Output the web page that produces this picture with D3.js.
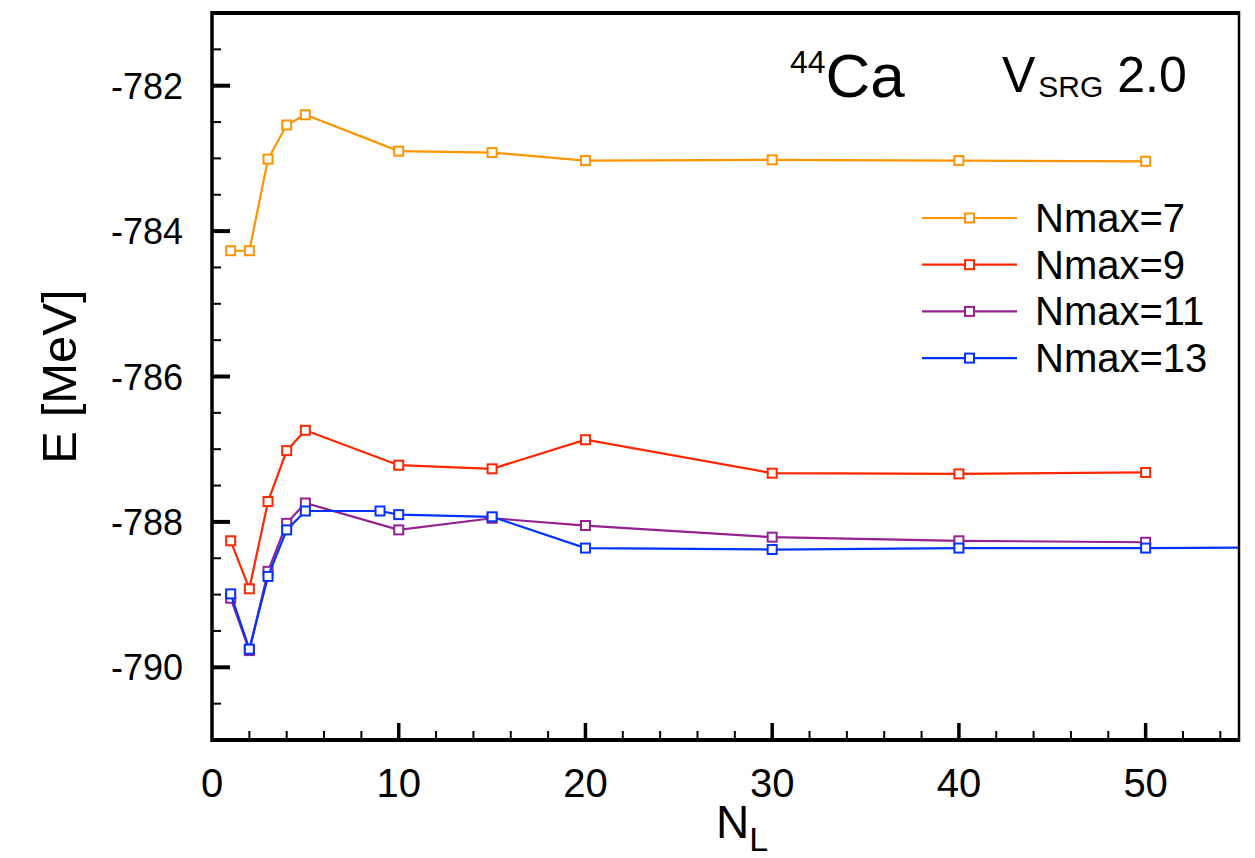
<!DOCTYPE html>
<html>
<head>
<meta charset="utf-8">
<script src="https://cdn.jsdelivr.net/npm/d3@7"></script>
<style>
  body { margin: 0; background: #fff; }
  text { font-family: "Liberation Sans", Arial, sans-serif; fill: #000; }
</style>
</head>
<body>
<div id="main"></div>
<script>
// values
const nl = [1, 2, 3, 4, 5, 10, 15, 20, 30, 40, 50];
const nlBlue = [1, 2, 3, 4, 5, 9, 10, 15, 20, 30, 40, 50, 60];
const nmax7 = [-784.27, -784.27, -783.01, -782.54, -782.40, -782.90, -782.92, -783.03, -783.02, -783.03, -783.04];
const nmax9 = [-788.26, -788.92, -787.72, -787.02, -786.74, -787.22, -787.27, -786.87, -787.33, -787.34, -787.32];
const nmax11 = [-789.05, -789.77, -788.68, -788.02, -787.74, -788.11, -787.95, -788.05, -788.21, -788.26, -788.28];
const nmax13 = [-788.99, -789.75, -788.75, -788.11, -787.85, -787.85, -787.90, -787.93, -788.36, -788.38, -788.36, -788.36, -788.35];
const labels = ['Nmax=7', 'Nmax=9', 'Nmax=11', 'Nmax=13'];
const colors = ['#FF9300', '#FF2600', '#942192', '#0433FF'];
const xMajor = [0, 10, 20, 30, 40, 50];
const yMajor = [-790, -788, -786, -784, -782];

const width = 1255;
const height = 858;
const margin = { top: 13, right: 16, bottom: 118, left: 212 };

const series = [
  { name: labels[0], color: colors[0], xs: nl, ys: nmax7 },
  { name: labels[1], color: colors[1], xs: nl, ys: nmax9 },
  { name: labels[2], color: colors[2], xs: nl, ys: nmax11 },
  { name: labels[3], color: colors[3], xs: nlBlue, ys: nmax13 },
];

const svg = d3.select('#main')
  .append('svg')
  .attr('width', width)
  .attr('height', height);

const x = d3.scaleLinear().domain([0, 55]).range([margin.left, width - margin.right]);
const y = d3.scaleLinear().domain([-791, -781]).range([height - margin.bottom, margin.top]);

svg.append('clipPath').attr('id', 'clip')
  .append('rect')
  .attr('x', x(0)).attr('y', y(-781))
  .attr('width', x(55) - x(0)).attr('height', y(-791) - y(-781));

const line = d3.line().x((d) => x(d[0])).y((d) => y(d[1]));

const plot = svg.append('g').attr('clip-path', 'url(#clip)');

series.forEach((s) => {
  const pts = s.xs.map((v, i) => [v, s.ys[i]]);
  plot.append('path')
    .attr('d', line(pts))
    .attr('fill', 'none')
    .attr('stroke', s.color)
    .attr('stroke-width', 2.2);
  plot.selectAll(null)
    .data(pts)
    .enter()
    .append('rect')
    .attr('x', (d) => x(d[0]) - 4.5)
    .attr('y', (d) => y(d[1]) - 4.5)
    .attr('width', 9)
    .attr('height', 9)
    .attr('fill', '#fff')
    .attr('stroke', s.color)
    .attr('stroke-width', 2);
});

// frame
const x0 = x(0), x1 = x(55), yb = y(-791), yt = y(-781);
svg.append('line').attr('x1', x0).attr('x2', x1).attr('y1', yt).attr('y2', yt)
  .attr('stroke', '#000').attr('stroke-width', 4);
svg.append('line').attr('x1', x0).attr('x2', x1).attr('y1', yb).attr('y2', yb)
  .attr('stroke', '#000').attr('stroke-width', 4);
svg.append('line').attr('x1', x0).attr('x2', x0).attr('y1', yt - 2).attr('y2', yb + 2)
  .attr('stroke', '#000').attr('stroke-width', 3.5);
svg.append('line').attr('x1', x1).attr('x2', x1).attr('y1', yt - 2).attr('y2', yb + 2)
  .attr('stroke', '#000').attr('stroke-width', 2.5);

// x axis ticks (inside)
const xMinor = d3.range(0, 56, 2).filter((v) => v % 10 !== 0);
svg.selectAll('.xminor').data(xMinor).enter().append('line')
  .attr('x1', (d) => x(d)).attr('x2', (d) => x(d))
  .attr('y1', yb).attr('y2', yb - 9)
  .attr('stroke', '#000').attr('stroke-width', 2);
svg.selectAll('.xmajor').data(xMajor.filter((d) => d > 0)).enter().append('line')
  .attr('x1', (d) => x(d)).attr('x2', (d) => x(d))
  .attr('y1', yb).attr('y2', yb - 17)
  .attr('stroke', '#000').attr('stroke-width', 3.5);
svg.selectAll('.xlabel').data(xMajor).enter().append('text')
  .attr('x', (d) => x(d))
  .attr('y', 797)
  .attr('text-anchor', 'middle')
  .style('font-size', '40px')
  .text((d) => d);

// y axis ticks (inside)
const yMinor = d3.range(-791, -780.9, 0.5).filter((v) => v % 2 !== 0);
svg.selectAll('.yminor').data(yMinor).enter().append('line')
  .attr('x1', x0).attr('x2', x0 + 9)
  .attr('y1', (d) => y(d)).attr('y2', (d) => y(d))
  .attr('stroke', '#000').attr('stroke-width', 2);
svg.selectAll('.ymajor').data(yMajor).enter().append('line')
  .attr('x1', x0).attr('x2', x0 + 18)
  .attr('y1', (d) => y(d)).attr('y2', (d) => y(d))
  .attr('stroke', '#000').attr('stroke-width', 4);
svg.selectAll('.ylabel').data(yMajor).enter().append('text')
  .attr('x', 183)
  .attr('y', (d) => y(d) + 13)
  .attr('text-anchor', 'end')
  .style('font-size', '36px')
  .text((d) => d);

// axis titles
const xt = svg.append('text')
  .attr('x', 716)
  .attr('y', 838)
  .style('font-size', '46px');
xt.append('tspan').text('N');
xt.append('tspan').attr('dy', 13).style('font-size', '34px').text('L');

svg.append('text')
  .attr('transform', `translate(76,${(yt + yb) / 2}) rotate(-90)`)
  .attr('text-anchor', 'middle')
  .style('font-size', '49px')
  .text('E [MeV]');

// annotations
const ca = svg.append('text').attr('x', 790).attr('y', 97).style('font-size', '62px');
ca.append('tspan').attr('dy', -24).style('font-size', '32px').text('44');
ca.append('tspan').attr('dy', 24).text('Ca');

const vs = svg.append('text').attr('x', 1002).attr('y', 92).style('font-size', '50px');
vs.append('tspan').text('V');
vs.append('tspan').attr('dx', 3).attr('dy', 5).style('font-size', '30px').text('SRG');
vs.append('tspan').attr('dy', -5).text(' 2.0');

// legend
const legend = svg.append('g');
series.forEach((s, i) => {
  const ly = 218 + i * 46.7;
  legend.append('line')
    .attr('x1', 922).attr('x2', 1017).attr('y1', ly).attr('y2', ly)
    .attr('stroke', s.color).attr('stroke-width', 2.2);
  legend.append('rect')
    .attr('x', 965).attr('y', ly - 4.5).attr('width', 9).attr('height', 9)
    .attr('fill', '#fff').attr('stroke', s.color).attr('stroke-width', 2);
  legend.append('text')
    .attr('x', 1035).attr('y', ly + 14)
    .style('font-size', '40px')
    .text(s.name);
});
</script>
</body>
</html>
